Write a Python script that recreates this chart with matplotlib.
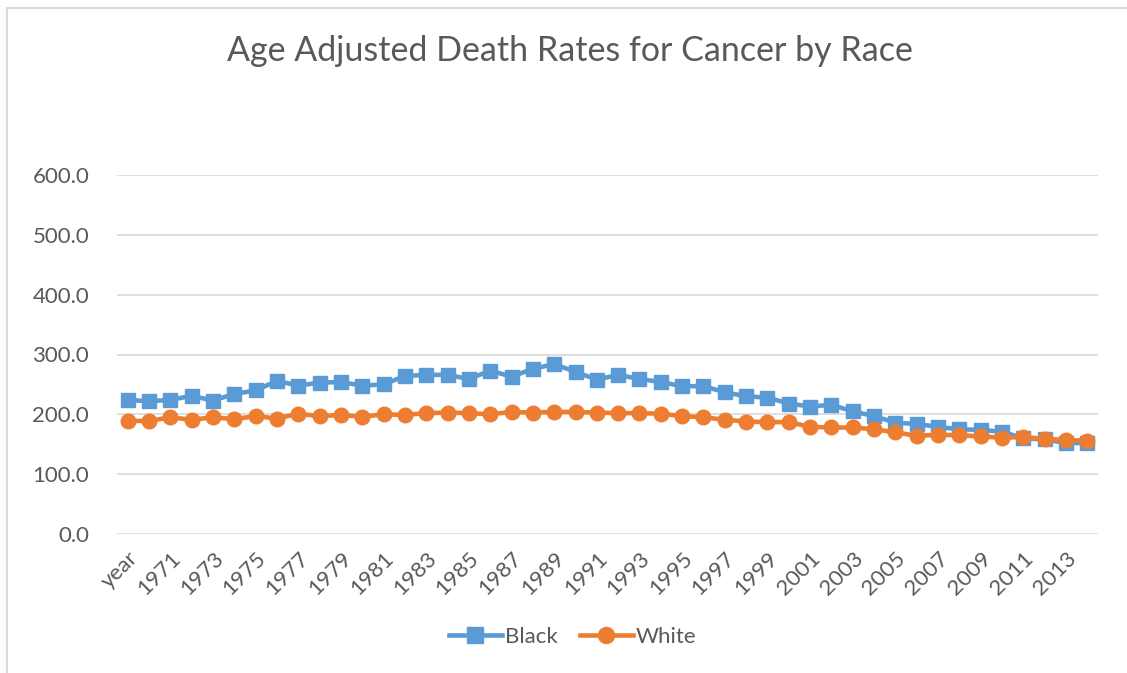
import matplotlib
matplotlib.use("Agg")
from matplotlib import pyplot as plt
from matplotlib.patches import Rectangle

# categories (first row of the sheet is the header label "year")
categories = ["year"] + [str(y) for y in range(1970, 2015)]

black = [224, 222, 224, 231, 223, 234, 240, 256, 248, 253, 254, 248, 250, 264, 266,
         266, 259, 273, 263, 276, 284, 271, 258, 266, 259, 254, 247, 247, 237, 230,
         228, 218, 213, 216, 205, 197, 186, 184, 179, 175, 174, 171, 160, 158, 152, 152]
white = [189, 189, 195, 191, 195, 192, 197, 193, 201, 197, 199, 196, 200, 199, 202,
         203, 202, 200, 204, 203, 204, 204, 203, 202, 202, 201, 197, 195, 191, 188,
         187, 187, 179, 178, 178, 175, 170, 164, 166, 165, 163, 161, 162, 159, 157, 156]

yticks = [0, 100, 200, 300, 400, 500, 600]

plt.rcParams['font.family'] = ['Lato', 'DejaVu Sans']
text_col = '#595959'

fig = plt.figure(figsize=(11.27, 6.73), dpi=100)
ax = fig.add_axes([117 / 1127, 1 - 534 / 673, (1098 - 117) / 1127, (534 - 175) / 673])

x = list(range(len(categories)))
ax.plot(x, black, color='#5B9BD5', lw=3.3, marker='s', ms=10, label='Black', zorder=3)
ax.plot(x, white, color='#ED7D31', lw=3.3, marker='o', ms=10.5, label='White', zorder=4)

ax.set_xlim(-0.5, len(categories) - 0.5)
ax.set_ylim(0, 600)
ax.set_yticks(yticks)
ax.set_yticklabels([f"{v:.1f}" for v in yticks], fontsize=16, color=text_col)
ax.set_xticks(x[::2])
ax.set_xticklabels(categories[::2], rotation=45, ha='right', rotation_mode='anchor',
                   fontsize=16, color=text_col)
ax.tick_params(axis='both', length=0, pad=10)
ax.tick_params(axis='y', pad=20)
ax.grid(axis='y', color='#D9D9D9', lw=1.2)
ax.set_axisbelow(True)
for s in ax.spines.values():
    s.set_visible(False)

fig.text(0.506, 1 - 51 / 673, "Age Adjusted Death Rates for Cancer by Race",
         ha='center', va='center', fontsize=24.5, color=text_col)

fig.legend(loc='center', bbox_to_anchor=(0.508, 1 - 637 / 673), ncol=2, frameon=False,
           fontsize=16, labelcolor=text_col, handlelength=2.4, handletextpad=0.12,
           columnspacing=1.0, markerscale=1.1)

fig.patches.append(Rectangle((7 / 1127, -0.1), 1.2, 1 - 8 / 673 + 0.1, transform=fig.transFigure,
                             fill=False, edgecolor='#D9D9D9', lw=1.5))

fig.savefig("out.png", dpi=100)
